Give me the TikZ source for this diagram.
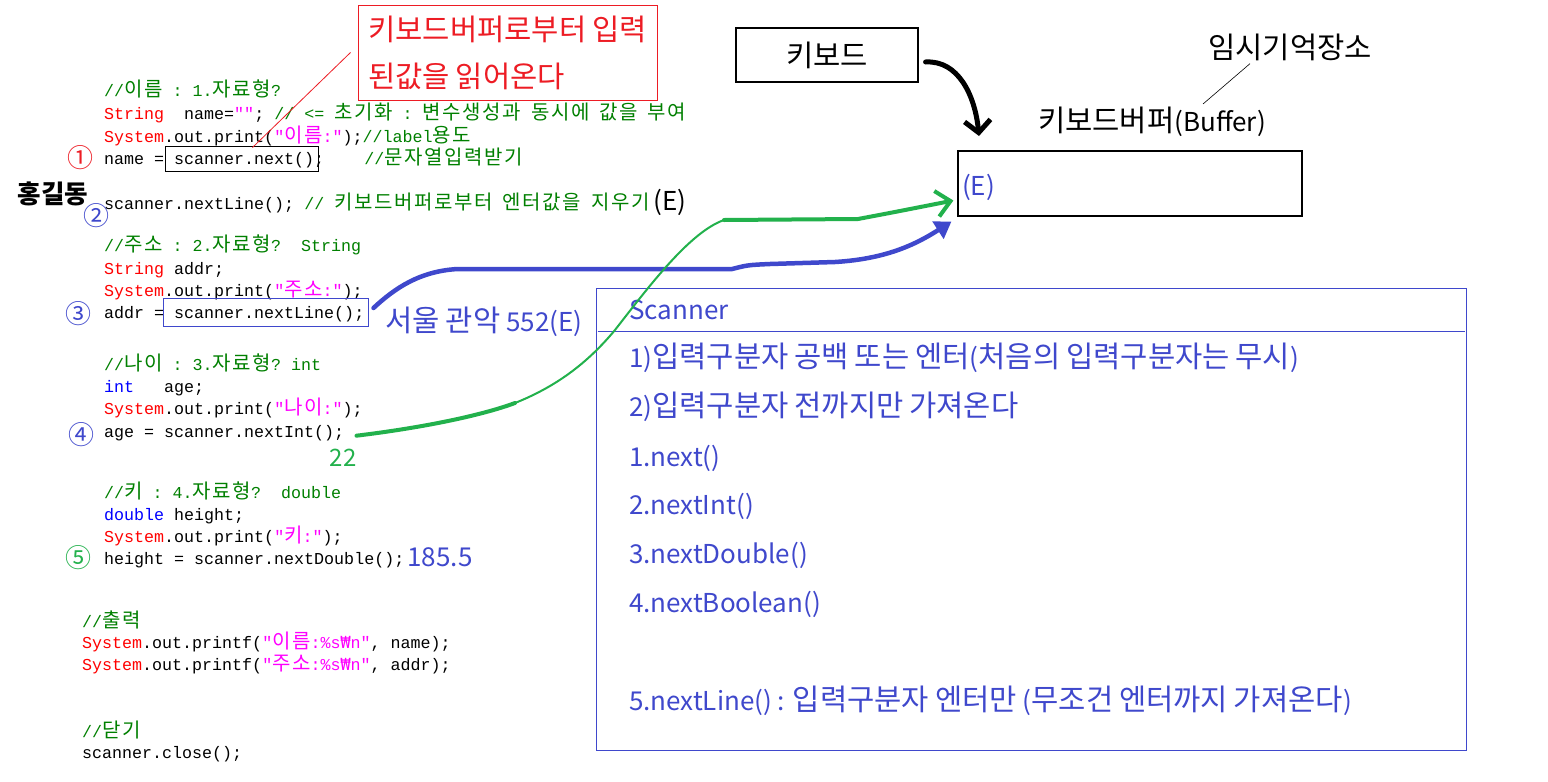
\documentclass[tikz,border=0pt]{standalone}
\usepackage{fontspec}
\setmonofont{Liberation Mono}
\newfontfamily\krfont{Noto Sans CJK KR}
\newfontfamily\krbig{Noto Sans CJK KR}[Scale=1.14]
\newfontfamily\krcode{Noto Sans CJK KR}[Scale=1.2,LetterSpace=8]
\newfontfamily\djmono{DejaVu Sans Mono}
\usetikzlibrary{arrows.meta,calc}
% Hangul runs switch to a (scaled) Korean font automatically
\chardef\KRcls=10
\newcount\kcnt
\kcnt="21\relax
\loop
  \XeTeXcharclass\kcnt=0\relax
  \advance\kcnt by 1\relax
\ifnum\kcnt<"7F\relax\repeat
\kcnt="AC00\relax
\loop
  \XeTeXcharclass\kcnt=\KRcls
  \advance\kcnt by 1\relax
\ifnum\kcnt<"D7A4\relax\repeat
\let\krswitch\krbig
\XeTeXinterchartoks 0 \KRcls={\begingroup\krswitch}
\XeTeXinterchartoks \KRcls 0={\endgroup}
\XeTeXinterchartoks 4095 \KRcls={\begingroup\krswitch}
\XeTeXinterchartoks \KRcls 4095={\endgroup}
\XeTeXinterchartokenstate=1
\definecolor{cgreen}{HTML}{008000}
\definecolor{ckw}{HTML}{FF0000}
\definecolor{cstr}{HTML}{FF00FF}
\definecolor{ctyp}{HTML}{0000FF}
\definecolor{annblue}{HTML}{3F48CC}
\definecolor{anngreen}{HTML}{22B14C}
\definecolor{annred}{HTML}{ED1C24}
\newcommand\Ccm[1]{\textcolor{cgreen}{#1}}
\newcommand\Ckw[1]{\textcolor{ckw}{#1}}
\newcommand\Cst[1]{\textcolor{cstr}{#1}}
\newcommand\Cty[1]{\textcolor{ctyp}{#1}}
\newcommand\won{{\djmono ₩}}
\tikzset{
  code/.style={font=\ttfamily\fontsize{16.67}{20}\selectfont\let\krswitch\krcode, anchor=base west, inner sep=0pt},
  ann/.style={font=\krfont\fontsize{26}{30}\selectfont, inner sep=0pt},
  item/.style={ann, text=annblue, anchor=west},
  num/.style={font=\krfont\fontsize{26}{26}\selectfont, inner sep=0pt},
  frame/.style={draw, line width=1.2pt, inner sep=0pt},
}
\begin{document}
\begin{tikzpicture}[x=1pt,y=-1pt]
\useasboundingbox[fill=white] (0,0) rectangle (1548,782);

% ---- code ----
\node[code] (l1) at (104,96) {\Ccm{//이름 : 1.자료형?}};
\node[code] (l2) at (104,119) {\Ckw{String}~~name=\Cst{""}; \Ccm{// <= 초기화 : 변수생성과 동시에 값을 부여}};
\node[code] (l3) at (104,142) {\Ckw{System}.out.print(\Cst{"이름:"});\Ccm{//label용도}};
\node[code] (l4) at (104,164) {name = scanner.next();~~~~\Ccm{//문자열입력받기}};
\node[code] (l5) at (104,209) {scanner.nextLine(); \Ccm{// 키보드버퍼로부터 엔터값을 지우기}};
\node[code] (l6) at (104,251) {\Ccm{//주소 : 2.자료형?~~String}};
\node[code] (l7) at (104,274) {\Ckw{String} addr;};
\node[code] (l8) at (104,296) {\Ckw{System}.out.print(\Cst{"주소:"});};
\node[code] (l9) at (104,318) {addr = scanner.nextLine();};
\node[code] (l10) at (104,370) {\Ccm{//나이 : 3.자료형? int}};
\node[code] (l11) at (104,392) {\Cty{int}~~~age;};
\node[code] (l12) at (104,414) {\Ckw{System}.out.print(\Cst{"나이:"});};
\node[code] (l13) at (104,437) {age = scanner.nextInt();};
\node[code] (l14) at (104,498) {\Ccm{//키 : 4.자료형?~~double}};
\node[code] (l15) at (104,520) {\Cty{double} height;};
\node[code] (l16) at (104,542) {\Ckw{System}.out.print(\Cst{"키:"});};
\node[code] (l17) at (104,564) {height = scanner.nextDouble();};
\node[code] (l18) at (82,627) {\Ccm{//출력}};
\node[code] (l19) at (82,648) {\Ckw{System}.out.printf(\Cst{"이름:\%s\won n"}, name);};
\node[code] (l20) at (82,670) {\Ckw{System}.out.printf(\Cst{"주소:\%s\won n"}, addr);};
\node[code] (l21) at (82,737) {\Ccm{//닫기}};
\node[code] (l22) at (82,758) {scanner.close();};

% boxes round calls
\node[draw, line width=1pt, minimum width=153pt, minimum height=25pt, inner sep=0pt] (box1) at (241.5,158.5) {};
\node[draw=annblue, line width=1pt, minimum width=205pt, minimum height=28pt, inner sep=0pt] (box3) at (265.5,312) {};

% circled numbers
\node[num, text=annred] (n1) at (80,158) {①};
\node[num, text=annblue] (n2) at (96,216) {②};
\node[num, text=annblue] (n3) at (78,314) {③};
\node[num, text=annblue] (n4) at (81,435) {④};
\node[num, text=anngreen] (n5) at (78,558) {⑤};

% annotations on the code
\node[ann, font=\krfont\fontsize{22.4}{28}\bfseries] (hong) at (53,194) {홍길동};
\node[ann] (e1) at (670,202) {(E)};
\node[ann, text=annblue] (seoul) at (484,322) {서울 관악 552(E)};
\node[ann, text=anngreen, font=\krfont\fontsize{24}{28}\selectfont] (v22) at (343,458) {22};
\node[ann, text=annblue] (v185) at (440,557) {185.5};

% red note
\node[draw=annred, line width=1pt, text=annred, align=left, minimum width=299pt, minimum height=95pt,
      inner sep=0pt, font=\krfont\fontsize{26}{47}\selectfont] (redbox) at (507.5,52.5) {키보드버퍼로부터 입력\\된값을 읽어온다};
\draw[annred, line width=0.8pt] ($(redbox.west)+(-7,0)$) -- ($(box1.north)+(11,2)$);

% keyboard and buffer
\node[frame, ann, minimum width=182pt, minimum height=54pt] (kb) at (827,55) {키보드};
\node[ann] (temp) at (1290,47) {임시기억장소};
\node[ann] (buftxt) at (1152,122) {키보드버퍼(Buffer)};
\node[frame, minimum width=344pt, minimum height=65pt] (buf) at (1130,183.5) {};
\node[ann, text=annblue, anchor=west] (bufe) at (962,187) {(E)};
\draw[line width=0.6pt] ($(temp.south)+(-40,3)$) -- ($(buftxt.north)+(51,-3)$);
\draw[line width=5pt, line cap=round, -{Straight Barb[length=12pt,width=26pt]}]
  ($(kb.east)+(7,7)$) .. controls (958,60) and (975,95) .. (979,136);

% scanner box
\node[draw=annblue, line width=1pt, minimum width=870pt, minimum height=462pt, inner sep=0pt] (scan) at (1031,519) {};
\draw[annblue, line width=1pt] ($(scan.north west)+(2,44)$) -- ($(scan.north east)+(-2,44)$);
\node[item] (s0) at (629,310) {Scanner};
\node[item] (s1) at (629,358) {1)입력구분자 공백 또는 엔터(처음의 입력구분자는 무시)};
\node[item] (s2) at (629,407) {2)입력구분자 전까지만 가져온다};
\node[item] (s3) at (629,458) {1.next()};
\node[item] (s4) at (629,506) {2.nextInt()};
\node[item] (s5) at (629,555) {3.nextDouble()};
\node[item] (s6) at (629,604) {4.nextBoolean()};
\node[item] (s7) at (629,701) {5.nextLine() : 입력구분자 엔터만 (무조건 엔터까지 가져온다)};

% blue arrow (nextLine -> buffer)
\draw[annblue, line width=4.5pt, line cap=round, -{Triangle[length=16pt,width=20pt]}]
  ($(box3.east)+(5,-4)$) .. controls (395,288) and (420,271) .. (458,269) -- (732,269)
  .. controls (748,265) .. (770,264) -- (835,262) .. controls (885,259) and (915,245) .. ($(buf.south west)+(-6,5)$);

% green arrow (nextInt -> buffer)
\coordinate (g1) at (515,403);
\coordinate (g2) at (724,220);
\draw[anngreen, line width=4pt, line cap=round] ($(l13.east)+(12,3)$) .. controls (420,428) and (480,416) .. (g1);
\draw[anngreen, line width=2pt, line cap=round] (g1) .. controls (560,385) and (590,360) .. (615,330)
  .. controls (650,285) and (690,232) .. (g2);
\draw[anngreen, line width=4pt, line cap=round, -{Straight Barb[length=14pt,width=26pt]}]
  (g2) -- (858,219) .. controls (895,212) .. ($(buf.west)+(-4,17)$);
\end{tikzpicture}
\end{document}
